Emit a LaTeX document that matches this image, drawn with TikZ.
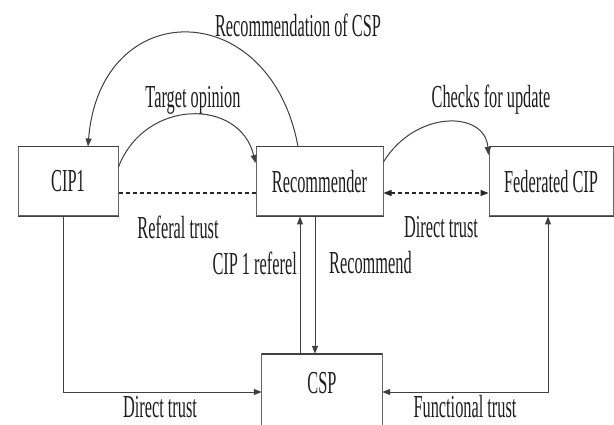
\documentclass[tikz,border=0pt]{standalone}
\usepackage{fontspec}
\setmainfont{Liberation Serif}[FakeStretch=0.51]
\usetikzlibrary{arrows.meta}
\definecolor{lincol}{HTML}{404040}
\definecolor{txtcol}{HTML}{1E1E1E}
\begin{document}
\begin{tikzpicture}[x=1pt,y=-1pt,
  lbl/.style={font=\fontsize{32}{35}\selectfont, text=txtcol, inner sep=0pt},
  boxnode/.style={draw=lincol!80, line width=1pt, lbl, minimum height=69pt},
  conn/.style={draw=lincol, line width=1pt, -{Triangle[length=8pt,width=6pt]}},
  plain/.style={draw=lincol, line width=1pt},
  dotline/.style={draw=black!85, line width=1.3pt, dash pattern=on 4pt off 3pt}]
\useasboundingbox[fill=white] (0,0) rectangle (614,425);

% boxes
\node[boxnode, minimum width=100pt] (cip1) at (68,181.5) {CIP1};
\node[boxnode, minimum width=127pt] (rec) at (319.5,181.5) {Recommender};
\node[boxnode, minimum width=124pt] (fed) at (551,181.5) {Federated CIP};
\node[lbl, minimum width=120pt, minimum height=76pt] (csp) at (322,392) {};
\node[lbl] (csptxt) at ([yshift=9pt]csp.center) {CSP};
\draw[draw=lincol!80, line width=1pt] (csp.south west) -- (csp.north west) -- (csp.north east) -- (csp.south east);

% darker top/bottom edges
\foreach \n in {cip1,rec,fed}{
  \draw[lincol, line width=1.6pt] (\n.north west) -- (\n.north east);
  \draw[lincol, line width=1.6pt] (\n.south west) -- (\n.south east);
}
\draw[lincol, line width=1.6pt] (csp.north west) -- (csp.north east);

% curved arrows
\draw[conn] ([yshift=14.5pt]cip1.east) .. controls (145,98) and (240,98) .. ([yshift=18.5pt]rec.west);
\draw[conn] ([xshift=-21.5pt]rec.north) .. controls (270,-5) and (100,-5) .. ([xshift=20pt]cip1.north);
\draw[conn] ([yshift=19.5pt]rec.east) .. controls (415,110) and (485,110) .. ([yshift=26.5pt]fed.west);

% dotted
\draw[dotline] ([yshift=-11.5pt]cip1.east) -- ([yshift=-11.5pt]rec.west);
\draw[dotline, {Triangle[length=8pt,width=6pt]}-{Triangle[length=8pt,width=6pt]}] ([yshift=-11.5pt]rec.east) -- ([yshift=-11.5pt]fed.west);

% orthogonal arrows
\draw[conn] ([xshift=-5pt]cip1.south) |- (csp.west);
\draw[plain, {Triangle[length=8pt,width=6pt]}-{Triangle[length=8pt,width=6pt]}] (csp.east) -| ([xshift=-3pt]fed.south);
\draw[conn] ([xshift=-22pt]csp.north) -- ([xshift=-22pt]csp.north |- rec.south);
\draw[conn] ([xshift=-7pt]csp.north |- rec.south) -- ([xshift=-7pt]csp.north);

% labels
\node[lbl] (l1) at (298,25) {Recommendation of CSP};
\node[lbl] (l2) at (193,100) {Target opinion};
\node[lbl] (l3) at (491,100) {Checks for update};
\node[lbl] (l4) at (178,227) {Referal trust};
\node[lbl] (l5) at (441,227) {Direct trust};
\node[lbl, anchor=east] (l6) at (297,263) {CIP 1 referel};
\node[lbl, anchor=west] (l7) at (329,263) {Recommend};
\node[lbl] (l8) at (160,407) {Direct trust};
\node[lbl] (l9) at (465,407) {Functional trust};
\end{tikzpicture}
\end{document}
